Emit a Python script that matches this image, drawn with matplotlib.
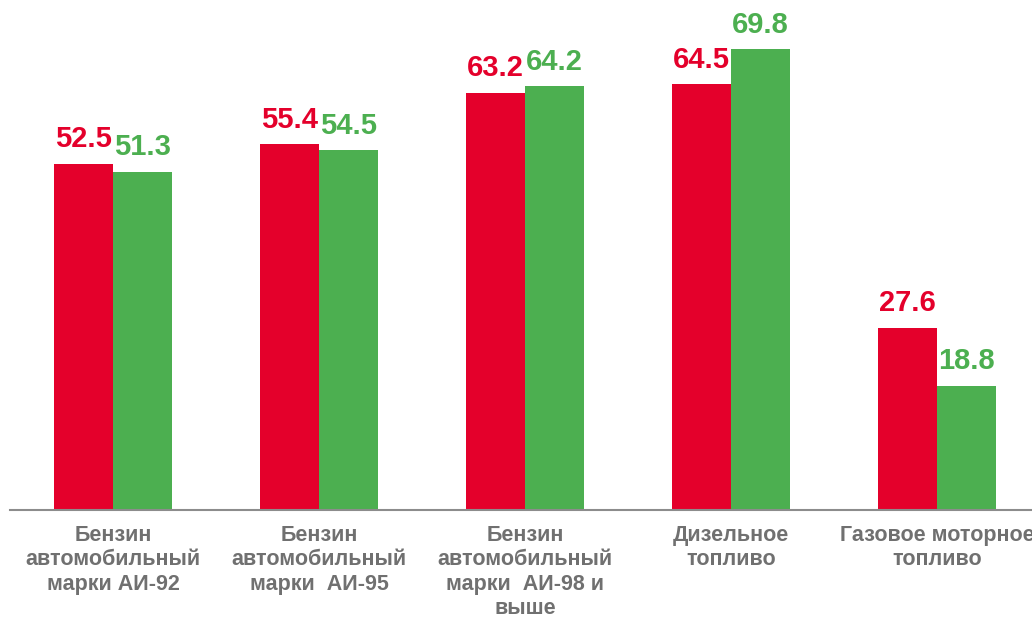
import matplotlib.pyplot as plt
import numpy as np

categories = ['Бензин\nавтомобильный\nмарки АИ-92',
              'Бензин\nавтомобильный\nмарки  АИ-95',
              'Бензин\nавтомобильный\nмарки  АИ-98 и\nвыше',
              'Дизельное\nтопливо',
              'Газовое моторное\nтопливо']
red_values = [52.5, 55.4, 63.2, 64.5, 27.6]
green_values = [51.3, 54.5, 64.2, 69.8, 18.8]

RED = '#E4002B'
GREEN = '#4CAF50'
GRAY_TEXT = '#707070'

plt.rcParams['font.family'] = ['Liberation Sans', 'DejaVu Sans']

fig = plt.figure(figsize=(10.32, 6.17), dpi=100)
ax = fig.add_axes([10 / 1032, 107 / 617, 1022 / 1032, 510 / 617])

x = np.arange(len(categories))
w = 0.286
bars_r = ax.bar(x - w / 2, red_values, w, color=RED)
bars_g = ax.bar(x + w / 2, green_values, w, color=GREEN)

for bars, vals, col in [(bars_r, red_values, RED), (bars_g, green_values, GREEN)]:
    for b, v in zip(bars, vals):
        ax.annotate(f'{v:.1f}', (b.get_x() + b.get_width() / 2, v),
                    xytext=(0, 12), textcoords='offset points',
                    ha='center', va='baseline', fontsize=21,
                    fontweight='bold', color=col)

ax.set_xlim(-0.5, 4.46)
ax.set_ylim(0, 77.3)
ax.set_xticks(x)
ax.set_xticklabels(categories, fontsize=15.5, fontweight='bold',
                   color=GRAY_TEXT, linespacing=1.2)
ax.tick_params(axis='x', length=0, pad=11)
ax.set_yticks([])
for s in ['top', 'right', 'left']:
    ax.spines[s].set_visible(False)
ax.spines['bottom'].set_color('#8C8C8C')
ax.spines['bottom'].set_linewidth(1.5)

plt.savefig('out.png', dpi=100)
